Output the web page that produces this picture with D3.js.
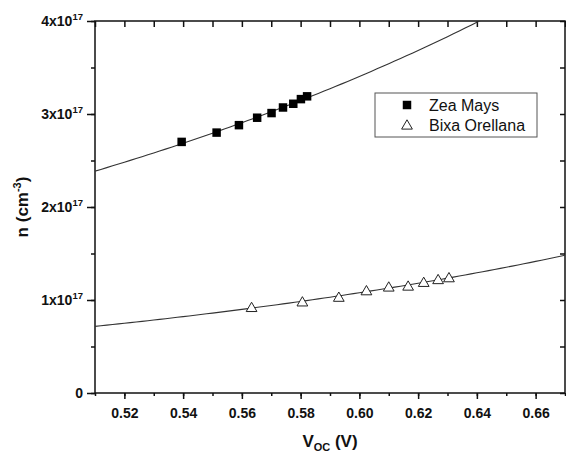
<!DOCTYPE html>
<html>
<head>
<meta charset="utf-8">
<script src="https://cdn.jsdelivr.net/npm/d3@7"></script>
<style>
  body { margin: 0; background: #fff; }
  text { font-family: Arial, "Liberation Sans", sans-serif; }
</style>
</head>
<body>
<div id="my_dataviz"></div>
<script>
// data (n in units of 1e17 cm^-3)
const zeaV = [0.5395, 0.5514, 0.5590, 0.5652, 0.5701, 0.5740, 0.5775, 0.5801, 0.5822]
const zeaN = [2.70, 2.80, 2.88, 2.96, 3.01, 3.07, 3.11, 3.16, 3.19]
const bixaV = [0.5633, 0.5806, 0.5930, 0.6024, 0.6100, 0.6166, 0.6219, 0.6268, 0.6305]
const bixaN = [0.92, 0.98, 1.03, 1.10, 1.14, 1.15, 1.19, 1.22, 1.24]
const seriesNames = ["Zea Mays", "Bixa Orellana"]
const xTicks = [0.52, 0.54, 0.56, 0.58, 0.60, 0.62, 0.64, 0.66]
const yTicks = [0, 1, 2, 3, 4]

const width = 566
const height = 453
const margin = {top: 21, right: 1, bottom: 60, left: 95}

const svg = d3.select("#my_dataviz")
  .append("svg")
    .attr("width", width)
    .attr("height", height)

const x = d3.scaleLinear().domain([0.51, 0.67]).range([margin.left, width - margin.right])
const y = d3.scaleLinear().domain([0, 4]).range([height - margin.bottom, margin.top])

// minor ticks halfway between majors
const xMinor = d3.range(0.51, 0.6701, 0.01).map(v => +v.toFixed(2))
const yMinor = d3.range(0, 4.01, 0.5)

svg.append("defs").append("clipPath").attr("id", "clip")
  .append("rect")
    .attr("x", margin.left).attr("y", margin.top)
    .attr("width", width - margin.left - margin.right)
    .attr("height", height - margin.top - margin.bottom)

// bottom axis (outward ticks)
const bottom = svg.append("g").attr("transform", `translate(0,${y(0)})`)
bottom.call(d3.axisBottom(x).tickValues(xMinor).tickSize(3).tickFormat(""))
bottom.call(g => g.append("g").call(d3.axisBottom(x).tickValues(xTicks).tickSize(6).tickFormat(d3.format(".2f"))))
bottom.selectAll("text").attr("font-size", 14).attr("font-weight", "bold").attr("fill", "#111").attr("dy", "1.15em")

// left axis (outward ticks)
const left = svg.append("g").attr("transform", `translate(${x(0.51)},0)`)
left.call(d3.axisLeft(y).tickValues(yMinor).tickSize(4).tickFormat(""))
left.call(g => g.append("g").call(d3.axisLeft(y).tickValues(yTicks).tickSize(8).tickFormat("")))

// top and right axes (inward ticks)
svg.append("g").attr("transform", `translate(0,${y(4)})`)
  .call(d3.axisBottom(x).tickValues(xMinor).tickSize(6).tickFormat(""))
svg.append("g").attr("transform", `translate(${x(0.67)},0)`)
  .call(d3.axisLeft(y).tickValues(yMinor).tickSize(5).tickFormat(""))

svg.selectAll(".domain").remove()
svg.selectAll(".tick line").attr("stroke", "#111").attr("stroke-width", 1.5)

// frame
svg.append("rect")
  .attr("x", x(0.51)).attr("y", y(4))
  .attr("width", x(0.67) - x(0.51)).attr("height", y(0) - y(4))
  .attr("fill", "none").attr("stroke", "#111").attr("stroke-width", 1.5)

// y tick labels like 3x10^17
const yLab = svg.append("g")
yTicks.forEach(t => {
  const txt = yLab.append("text")
    .attr("x", x(0.51) - 12).attr("y", y(t) + 5)
    .attr("text-anchor", "end")
    .attr("font-size", 14).attr("font-weight", "bold").attr("fill", "#111")
  if (t === 0) {
    txt.text("0")
  } else {
    txt.append("tspan").text(t + "x10")
    txt.append("tspan").attr("font-size", 9.5).attr("dy", -6).text("17")
  }
})

// axis titles
svg.append("text")
  .attr("transform", `translate(28,${(y(0) + y(4)) / 2}) rotate(-90)`)
  .attr("text-anchor", "middle")
  .attr("font-size", 17).attr("font-weight", "bold").attr("fill", "#111")
  .call(t => {
    t.append("tspan").text("n (cm")
    t.append("tspan").attr("font-size", 11).attr("dy", -7).text("-3")
    t.append("tspan").attr("dy", 7).text(")")
  })

svg.append("text")
  .attr("x", (x(0.51) + x(0.67)) / 2).attr("y", 447)
  .attr("text-anchor", "middle")
  .attr("font-size", 17).attr("font-weight", "bold").attr("fill", "#111")
  .call(t => {
    t.append("tspan").text("V")
    t.append("tspan").attr("font-size", 11).attr("dy", 4).text("OC")
    t.append("tspan").attr("dy", -4).text(" (V)")
  })

// exponential fit n = A exp(b V) from the points (log-linear least squares)
function expFit(vs, ns) {
  const ls = ns.map(Math.log)
  const mx = d3.mean(vs), my = d3.mean(ls)
  const b = d3.sum(vs, (v, i) => (v - mx) * (ls[i] - my)) / d3.sum(vs, v => (v - mx) ** 2)
  return v => Math.exp(my + b * (v - mx))
}

const line = d3.line().x(d => x(d[0])).y(d => y(d[1]))
const grid = d3.range(0.51, 0.6701, 0.002)

;[[zeaV, zeaN], [bixaV, bixaN]].forEach(([vs, ns]) => {
  const f = expFit(vs, ns)
  svg.append("path")
    .datum(grid.map(v => [v, f(v)]))
    .attr("clip-path", "url(#clip)")
    .attr("d", line)
    .attr("fill", "none").attr("stroke", "#333").attr("stroke-width", 1.1)
})

// markers
const square = d3.symbol().type(d3.symbolSquare).size(72)
const tri = d3.symbol().type(d3.symbolTriangle).size(50)

svg.append("g").selectAll("path")
  .data(zeaV.map((v, i) => [v, zeaN[i]]))
  .join("path")
    .attr("transform", d => `translate(${x(d[0])},${y(d[1])})`)
    .attr("d", square)
    .attr("fill", "#000")

svg.append("g").selectAll("path")
  .data(bixaV.map((v, i) => [v, bixaN[i]]))
  .join("path")
    .attr("transform", d => `translate(${x(d[0])},${y(d[1]) + 1})`)
    .attr("d", tri)
    .attr("fill", "#fff").attr("stroke", "#222").attr("stroke-width", 1)

// legend
const legend = svg.append("g")
legend.append("rect")
  .attr("x", 375).attr("y", 93).attr("width", 162).attr("height", 44)
  .attr("fill", "#fff").attr("stroke", "#555").attr("stroke-width", 1)
seriesNames.forEach((name, i) => {
  const ly = 105 + i * 20
  legend.append("path")
    .attr("transform", `translate(407,${ly + (i ? 1 : 0)})`)
    .attr("d", i ? tri : square)
    .attr("fill", i ? "#fff" : "#000")
    .attr("stroke", i ? "#222" : "none")
  legend.append("text")
    .attr("x", 429).attr("y", ly + 6)
    .attr("font-size", 16).attr("fill", "#111")
    .text(name)
})
</script>
</body>
</html>
